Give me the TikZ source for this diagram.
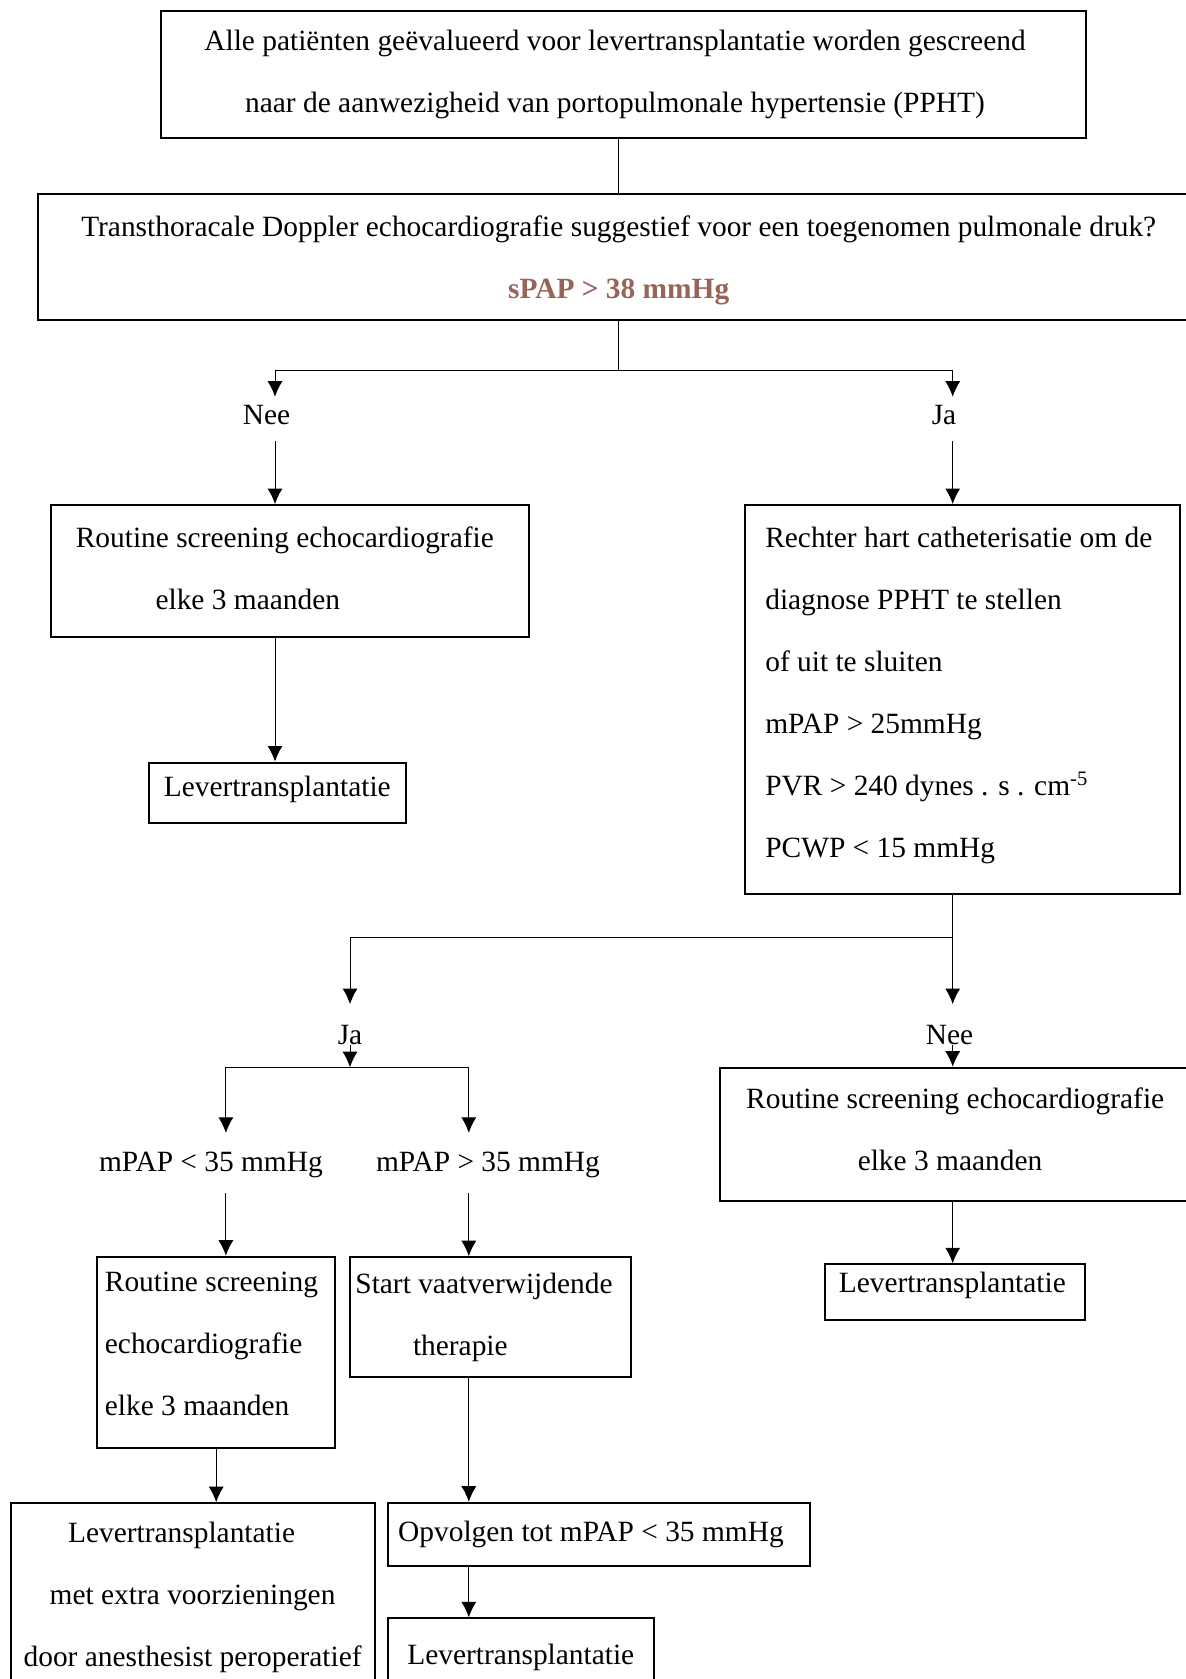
\documentclass[tikz,border=0pt]{standalone}
\usepackage{fontspec}
\setmainfont{Liberation Serif}
\usetikzlibrary{arrows.meta}
\definecolor{spapbrown}{RGB}{150,101,88}

\begin{document}
\begin{tikzpicture}[x=0.5pt,y=-0.5pt,
  every node/.style={font=\fontsize{14.7pt}{31pt}\selectfont},
  box/.style={draw,line width=1pt,inner sep=0pt,align=center,text depth=3.1pt},
  leftbox/.style={draw,line width=1pt,inner ysep=0pt,align=flush left},
  lbl/.style={inner sep=0pt,text height=9.6pt,text depth=0pt},
  conn/.style={line width=0.5pt},
  arr/.style={conn,-{Latex[length=7.75pt,width=7.5pt]}}]

  \path[fill=white,use as bounding box] (0,0) rectangle (1186,1679);

  % screening
  \node[box,minimum width=462.5pt,minimum height=63.8pt] (alle) at (623,74.5)
    {Alle patiënten geëvalueerd voor levertransplantatie worden gescreend\hspace*{8pt}\\
     naar de aanwezigheid van portopulmonale hypertensie (PPHT)\hspace*{8pt}};
  \node[box,minimum width=581.2pt,minimum height=62.8pt,text depth=0pt] (tte) at (618.7,257.2)
    {Transthoracale Doppler echocardiografie suggestief voor een toegenomen pulmonale druk?\\
     \textbf{\textcolor{spapbrown}{sPAP > 38 mmHg}}};
  \draw[conn] (alle.south -| tte.north) -- (tte.north);

  \coordinate (j1) at (618.7,370.4);
  \node[lbl] (neeA) at (275,414.5) {Nee\hspace*{8.5pt}};
  \node[lbl] (jaA) at (952.7,414.5) {Ja\hspace*{8.7pt}};
  \draw[conn] (tte.south) -- (j1);
  \draw[arr,shorten >=3.9pt] (j1) -| (neeA);
  \draw[arr,shorten >=3.9pt] (j1) -| (jaA);

  % nee
  \node[box,minimum width=238.7pt,minimum height=65.9pt] (routA) at (290.1,571)
    {Routine screening echocardiografie\hspace*{5.3pt}\\elke 3 maanden\hspace*{42.3pt}};
  \node[box,minimum width=128.45pt,minimum height=30.2pt,text depth=6.9pt] (leverA) at (277.25,792.7)
    {Levertransplantatie};
  \draw[arr,shorten <=8.4pt] (neeA.south) -- (neeA.south |- routA.north);
  \draw[arr] (neeA.south |- routA.south) -- (neeA.south |- leverA.north);

  % ja
  \node[leftbox,inner xsep=9.15pt,text width=199pt,minimum height=194.3pt,text depth=162pt] (rhc) at (962.3,699.3)
    {\hspace*{1pt}Rechter hart catheterisatie om de\\
     \hspace*{1pt}diagnose PPHT te stellen\\
     \hspace*{1pt}of uit te sluiten\\
     \hspace*{1pt}mPAP > 25mmHg\\
     \hspace*{1pt}PVR > 240 dynes . s . cm\textsuperscript{-5}\\
     \hspace*{1pt}PCWP < 15 mmHg};
  \draw[arr,shorten <=8.4pt] (jaA.south) -- (jaA.south |- rhc.north);

  \coordinate (j2) at (952.7,937.7);
  \node[lbl] (jaB) at (350,1034.5) {Ja};
  \node[lbl] (neeB) at (952.7,1034.5) {Nee\hspace*{3.2pt}};
  \draw[conn] (jaA.south |- rhc.south) -- (j2);
  \draw[arr,shorten >=10.2pt] (j2) -| (jaB);
  \draw[arr,shorten >=10.2pt] (j2) -- (neeB);

  % mPAP
  \coordinate (j3) at (350,1067.2);
  \node[lbl] (mlow) at (225.9,1161.5) {mPAP < 35 mmHg\hspace*{15pt}};
  \node[lbl] (mhigh) at (468.8,1161.5) {\hspace*{19.2pt}mPAP > 35 mmHg};
  \draw[arr] (jaB) -- (j3);
  \draw[arr,shorten >=9.3pt] (j3) -| (mlow);
  \draw[arr,shorten >=9.3pt] (j3) -| (mhigh);

  \node[leftbox,inner xsep=3.75pt,text width=111.3pt,minimum height=95.8pt,text depth=70.8pt] (routB) at (216.2,1352.5)
    {Routine screening\\echocardiografie\\elke 3 maanden};
  \node[leftbox,inner xsep=2.7pt,text width=134.85pt,minimum height=60pt,text depth=34.1pt] (start) at (490.25,1317.2)
    {Start vaatverwijdende\\\hspace*{28.8pt}therapie};
  \draw[arr,shorten <=10.9pt] (mlow.south) -- (mlow.south |- routB.north);
  \draw[arr,shorten <=10.9pt] (mhigh.south) -- (mhigh.south |- start.north);

  \node[box,anchor=north,minimum width=181.95pt,minimum height=94.4pt] (leverB) at (192.6,1502.2)
    {Levertransplantatie\hspace*{11pt}\\met extra voorzieningen\hspace*{11.5pt}\\door anesthesist peroperatief};
  \node[leftbox,inner xsep=5.35pt,text width=200.7pt,minimum height=31.5pt,text depth=3.1pt] (opvolg) at (598.9,1534.2)
    {Opvolgen tot mPAP < 35 mmHg};
  \node[box,anchor=north,minimum width=133.25pt,minimum height=38.5pt] (leverD) at (520.75,1617.4)
    {Levertransplantatie};
  \draw[arr] (routB.south) -- (routB.south |- leverB.north);
  \draw[arr] (mhigh.south |- start.south) -- (mhigh.south |- opvolg.north);
  \draw[arr] (mhigh.south |- opvolg.south) -- (mhigh.south |- leverD.north);

  % nee (rechts)
  \node[box,minimum width=234.8pt,minimum height=66.5pt,text depth=4.6pt] (routC) at (955.2,1134.2)
    {Routine screening echocardiografie\\elke 3 maanden\hspace*{5.2pt}};
  \node[box,minimum width=130.05pt,minimum height=28pt,text depth=10.5pt] (leverC) at (955.35,1292.3)
    {Levertransplantatie\hspace*{3pt}};
  \draw[arr] (neeB.south) -- (neeB.south |- routC.north);
  \draw[arr] (neeB.south |- routC.south) -- (neeB.south |- leverC.north);
\end{tikzpicture}
\end{document}
